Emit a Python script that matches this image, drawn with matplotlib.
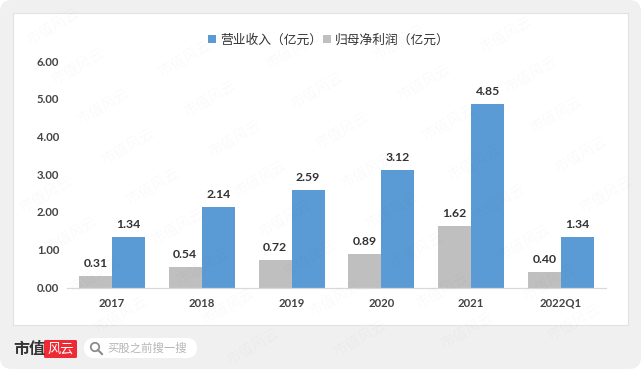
import matplotlib
matplotlib.use("Agg")
import matplotlib.pyplot as plt
from matplotlib.patches import FancyBboxPatch, Rectangle, Circle
from matplotlib.lines import Line2D
import numpy as np

categories = ["2017", "2018", "2019", "2020", "2021", "2022Q1"]
revenue = [1.34, 2.14, 2.59, 3.12, 4.85, 1.34]
profit = [0.31, 0.54, 0.72, 0.89, 1.62, 0.40]
yticks = [0, 1, 2, 3, 4, 5, 6]
rev_label = "营业收入（亿元）"
profit_label = "归母净利润（亿元）"
watermark = "市值风云"

W, H = 641, 369
CJK = ["Noto Sans CJK SC", "DejaVu Sans"]
LAT = "Lato"

fig = plt.figure(figsize=(W / 100, H / 100), dpi=100, facecolor="white")

# background layer in pixel coordinates
bg = fig.add_axes([0, 0, 1, 1], zorder=0)
bg.set_xlim(0, W); bg.set_ylim(H, 0); bg.axis("off")
bg.add_patch(FancyBboxPatch((0, 0), W, H, boxstyle="round,pad=0,rounding_size=12",
                            fc="#f0f0f0", ec="none"))
bg.add_patch(Rectangle((13, 13), 615, 312, fc="white", ec="#e2e2e2", lw=0.8))

# chart
ax = fig.add_axes([67 / W, 1 - 287.5 / H, 539 / W, 226.5 / H], zorder=2)
ax.patch.set_alpha(0)
x = np.arange(len(categories))
bw = 0.367
b1 = ax.bar(x - bw / 2, profit, bw, color="#bfbfbf", label=profit_label)
b2 = ax.bar(x + bw / 2, revenue, bw, color="#5b9bd5", label=rev_label)
for bars, vals in ((b1, profit), (b2, revenue)):
    for r, v in zip(bars, vals):
        ax.annotate(f"{v:.2f}", (r.get_x() + r.get_width() / 2, v), xytext=(0, 5),
                    textcoords="offset points", ha="center", va="bottom",
                    fontsize=8.8, fontweight="bold", family=LAT, color="#333333")
ax.set_xlim(-0.5, len(categories) - 0.5)
ax.set_ylim(0, 6)
ax.set_xticks(x, categories)
ax.set_yticks(yticks, [f"{v:.2f}" for v in yticks])
for s in ("top", "right", "left"):
    ax.spines[s].set_visible(False)
ax.spines["bottom"].set_color("#d9d9d9")
ax.spines["bottom"].set_linewidth(0.9)
ax.tick_params(length=0)
ax.tick_params(axis="x", pad=7.5)
ax.tick_params(axis="y", pad=5.5)
for t in ax.get_xticklabels() + ax.get_yticklabels():
    t.set_family(LAT); t.set_fontweight("bold"); t.set_fontsize(8.2); t.set_color("#444444")

handles, labels = ax.get_legend_handles_labels()
leg = fig.legend(handles[::-1], labels[::-1], ncol=2, frameon=False,
                 loc="center", bbox_to_anchor=(329 / W, 1 - 40 / H),
                 prop={"family": CJK, "size": 9.2}, handlelength=0.65, handleheight=0.65,
                 handletextpad=0.3, columnspacing=0.05, labelcolor="#333333")

# overlay layer: watermarks and footer
fg = fig.add_axes([0, 0, 1, 1], zorder=3)
fg.set_xlim(0, W); fg.set_ylim(H, 0); fg.axis("off"); fg.patch.set_alpha(0)
for i in range(-3, 9):
    for j in range(-1, 11):
        px = 53 + i * 107 + j * 25
        py = 27 - i * 8 + j * 40
        if 28 < px < W - 28 and 24 < py < H - 18:
            fg.text(px, py, watermark, rotation=30, ha="center", va="center",
                    family=CJK, fontsize=10.5, color="#000000", alpha=0.025,
                    rotation_mode="anchor")

fg.text(13, 349, "市值", family=CJK, fontsize=11.5, fontweight="bold",
        color="#333333", ha="left", va="center")
fg.add_patch(FancyBboxPatch((44, 340), 33, 18, boxstyle="round,pad=0,rounding_size=1.5",
                            fc="#ee2a35", ec="none"))
fg.text(60.5, 349, "风云", family=CJK, fontsize=9.5, color="white", style="italic",
        ha="center", va="center")
fg.add_patch(FancyBboxPatch((84, 338), 113, 20, boxstyle="round,pad=0,rounding_size=10",
                            fc="white", ec="none"))
fg.add_patch(Circle((95, 347), 4.2, fc="none", ec="#8c8c8c", lw=1.3))
fg.add_line(Line2D([98, 102], [350, 354], color="#8c8c8c", lw=1.5))
fg.text(107, 348.5, "买股之前搜一搜", family=CJK, fontsize=8.2, color="#b5b5b5",
        ha="left", va="center")

fig.savefig("out.png", dpi=100, facecolor="white")
